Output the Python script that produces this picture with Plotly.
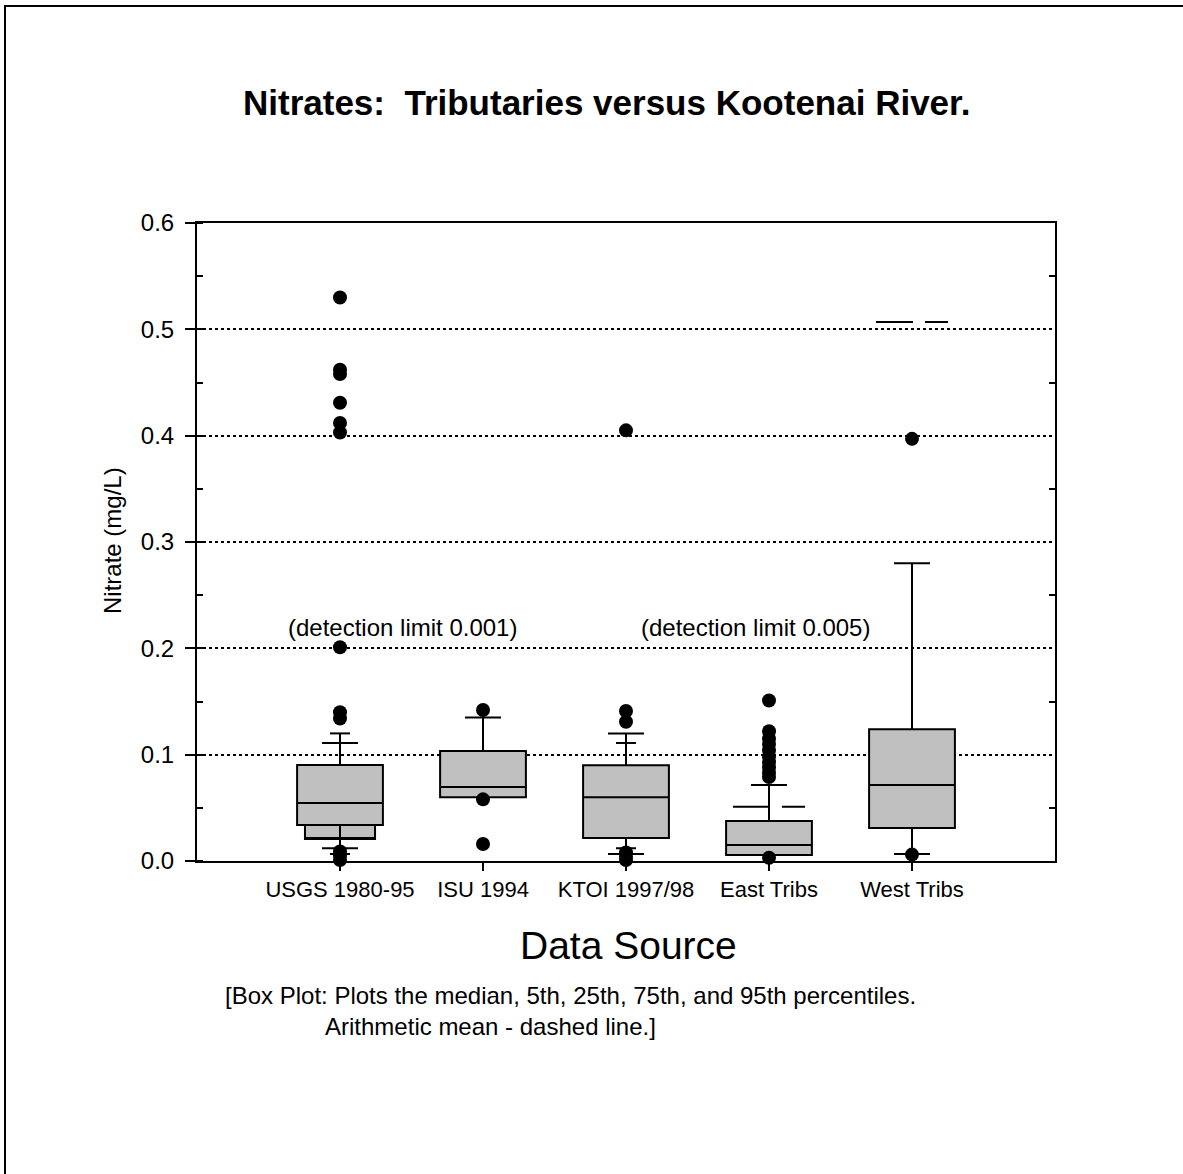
import plotly.graph_objects as go

# ---------------- data ----------------
categories = ["USGS 1980-95", "ISU 1994", "KTOI 1997/98", "East Tribs", "West Tribs"]
q1 = [0.0339, 0.060, 0.0216, 0.0056, 0.031]
median = [0.0545, 0.0696, 0.060, 0.015, 0.0715]
q3 = [0.0903, 0.1035, 0.090, 0.0376, 0.124]
lowerfence = [0.0066, 0.060, 0.0066, 0.0056, 0.0066]
upperfence = [0.120, 0.135, 0.120, 0.0715, 0.280]

# secondary (narrow) box under the USGS box
inner_box_cat = [0]
inner_box_low = [0.0207]
inner_box_high = [0.0339]

# wide whisker caps (category index, value)
wide_cap_cat = [0, 0, 1, 2, 2, 3, 4, 4]
wide_cap_val = [0.111, 0.012, 0.135, 0.120, 0.0066, 0.0715, 0.280, 0.0066]
# narrow caps
narrow_cap_cat = [0, 0, 2, 2]
narrow_cap_val = [0.120, 0.0066, 0.111, 0.012]

# arithmetic means drawn as dashed lines
mean_cat = [3, 4]
mean_val = [0.051, 0.507]

# outliers
out_usgs = [0.530, 0.462, 0.458, 0.431, 0.412, 0.403, 0.201, 0.140, 0.134, 0.009, 0.005, 0.001]
out_isu = [0.142, 0.058, 0.016]
out_ktoi = [0.405, 0.141, 0.131, 0.008, 0.004, 0.001]
out_east = [0.151, 0.122, 0.115, 0.110, 0.104, 0.098, 0.093, 0.088, 0.083, 0.079, 0.003]
out_west = [0.397, 0.006]
outliers = [out_usgs, out_isu, out_ktoi, out_east, out_west]

y_ticks = [0.0, 0.1, 0.2, 0.3, 0.4, 0.5, 0.6]
y_tick_text = ["0.0", "0.1", "0.2", "0.3", "0.4", "0.5", "0.6"]

FONT = "Liberation Sans, Arial, sans-serif"
BOX_W = 0.6
CAP_HALF = 0.126
NARROW_HALF = 0.07
MEAN_HALF = 0.252

fig = go.Figure()

# outliers (drawn first, boxes on top)
ox, oy = [], []
for i, vals in enumerate(outliers):
    for v in vals:
        ox.append(i)
        oy.append(v)
fig.add_trace(go.Scatter(x=ox, y=oy, mode="markers", cliponaxis=False,
                         marker=dict(color="black", size=14, line=dict(width=0)),
                         showlegend=False, hoverinfo="skip"))

# inner narrow box
for c, lo, hi in zip(inner_box_cat, inner_box_low, inner_box_high):
    fig.add_trace(go.Box(x=[c], q1=[lo], median=[lo], q3=[hi], lowerfence=[lo], upperfence=[hi],
                         width=0.49, fillcolor="#c0c0c0", line=dict(color="black", width=2),
                         whiskerwidth=0, boxpoints=False, showlegend=False, hoverinfo="skip"))

# main boxes
for i in range(len(categories)):
    fig.add_trace(go.Box(x=[i], q1=[q1[i]], median=[median[i]], q3=[q3[i]],
                         lowerfence=[lowerfence[i]], upperfence=[upperfence[i]],
                         width=BOX_W, fillcolor="#c0c0c0", line=dict(color="black", width=2),
                         whiskerwidth=0, boxpoints=False, showlegend=False, hoverinfo="skip"))

# caps
def seg(cats, vals, half):
    xs, ys = [], []
    for c, v in zip(cats, vals):
        xs += [c - half, c + half, None]
        ys += [v, v, None]
    return xs, ys

cx, cy = seg(wide_cap_cat, wide_cap_val, CAP_HALF)
fig.add_trace(go.Scatter(x=cx, y=cy, mode="lines", line=dict(color="black", width=2),
                         showlegend=False, hoverinfo="skip", cliponaxis=False))
nx, ny = seg(narrow_cap_cat, narrow_cap_val, NARROW_HALF)
fig.add_trace(go.Scatter(x=nx, y=ny, mode="lines", line=dict(color="black", width=2),
                         showlegend=False, hoverinfo="skip", cliponaxis=False))
mx, my = seg(mean_cat, mean_val, MEAN_HALF)
fig.add_trace(go.Scatter(x=mx, y=my, mode="lines", line=dict(color="black", width=2, dash="37px,12px"),
                         showlegend=False, hoverinfo="skip"))

# invisible trace to anchor right axis
fig.add_trace(go.Scatter(x=[0], y=[0.3], yaxis="y2", mode="markers", marker=dict(opacity=0),
                         showlegend=False, hoverinfo="skip"))

L, R, T, B = 197, 1055, 223, 861
W, H = 1183, 1174
pw, ph = R - L, B - T

def px(x):
    return (x - L) / pw

def py(y):
    return (B - y) / ph

indent = "&nbsp;" * 15
caption = ("[Box Plot: Plots the median, 5th, 25th, 75th, and 95th percentiles.<br>"
           + indent + "Arithmetic mean - dashed line.]")

fig.update_layout(
    width=W, height=H,
    margin=dict(l=L, r=W - R, t=T, b=H - B, pad=0),
    paper_bgcolor="white", plot_bgcolor="white",
    boxmode="overlay",
    font=dict(family=FONT, color="black", size=22),
    xaxis=dict(range=[-1, 5], tickmode="array", tickvals=list(range(len(categories))),
               ticktext=categories, ticks="outside", ticklen=8, tickwidth=2, tickcolor="black",
               showline=True, linecolor="black", linewidth=2, mirror=True,
               showgrid=False, zeroline=False, tickfont=dict(size=22, family=FONT)),
    yaxis=dict(range=[0, 0.6], tickmode="array", tickvals=y_ticks, ticktext=y_tick_text,
               ticks="outside", ticklen=10, tickwidth=2, tickcolor="black",
               showline=True, linecolor="black", linewidth=2, mirror=False,
               showgrid=True, gridcolor="black", gridwidth=1.5, griddash="dot",
               zeroline=False, tickfont=dict(size=24, family=FONT), ticklabelstandoff=6,
               minor=dict(ticks="inside", ticklen=6, tickwidth=2, tickcolor="black",
                          dtick=0.05, tick0=0, showgrid=False)),
    yaxis2=dict(range=[0, 0.6], overlaying="y", side="right", tickmode="linear",
                tick0=0.05, dtick=0.1, ticks="inside", ticklen=6, tickwidth=2, tickcolor="black",
                showticklabels=False, showline=True, linecolor="black", linewidth=2,
                showgrid=False, zeroline=False),
    annotations=[
        dict(text="<b>Nitrates:  Tributaries versus Kootenai River.</b>", x=px(606), y=py(103),
             xref="paper", yref="paper", showarrow=False, xanchor="center", yanchor="middle",
             font=dict(size=35, family=FONT)),
        dict(text="Nitrate (mg/L)", x=px(112), y=py(541), xref="paper", yref="paper",
             showarrow=False, textangle=-90, xanchor="center", yanchor="middle",
             font=dict(size=24, family=FONT)),
        dict(text="(detection limit 0.001)", x=0.44, y=0.220, xref="x", yref="y",
             showarrow=False, xanchor="center", yanchor="middle", font=dict(size=24, family=FONT)),
        dict(text="(detection limit 0.005)", x=2.909, y=0.220, xref="x", yref="y",
             showarrow=False, xanchor="center", yanchor="middle", font=dict(size=24, family=FONT)),
        dict(text="Data Source", x=px(628), y=py(945), xref="paper", yref="paper",
             showarrow=False, xanchor="center", yanchor="middle", font=dict(size=39, family=FONT)),
        dict(text=caption, x=px(223), y=py(1011), xref="paper", yref="paper", showarrow=False,
             xanchor="left", yanchor="middle", align="left", font=dict(size=24, family=FONT)),
    ],
    shapes=[
        dict(type="line", xref="paper", yref="paper", x0=px(5), x1=px(5), y0=py(H + 5), y1=py(5),
             line=dict(color="black", width=2)),
        dict(type="line", xref="paper", yref="paper", x0=px(5), x1=px(W + 5), y0=py(6), y1=py(6),
             line=dict(color="black", width=2)),
    ],
)

fig.write_html("out.html")
